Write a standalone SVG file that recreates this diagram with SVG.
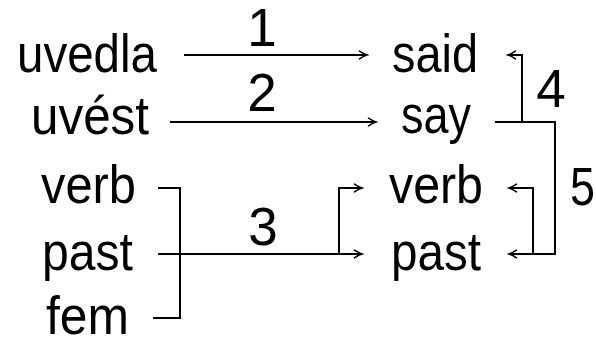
<svg xmlns="http://www.w3.org/2000/svg" width="596" height="339" viewBox="0 0 596 339">
<style>
text{font-family:"Liberation Sans","DejaVu Sans",sans-serif;font-size:53px;fill:#000}
.lbl{text-anchor:middle}
.c{fill:none;stroke:#000;stroke-width:2}
</style>
<defs>
<marker id="ah" markerUnits="userSpaceOnUse" markerWidth="12" markerHeight="12" viewBox="-10 -6 12 12" refX="0" refY="0" orient="auto">
<path d="M-7.5,-3.8 Q-3,-0.8 0,0 Q-3,0.8 -7.5,3.8" fill="none" stroke="#000" stroke-width="1.6" stroke-linecap="round"/>
</marker>
</defs>
<rect width="596" height="339" fill="#fff"/>
<g id="src-uvedla"><text x="17" y="72" textLength="140" lengthAdjust="spacingAndGlyphs">uvedla</text></g>
<g id="src-uvest"><text x="31" y="134" textLength="118" lengthAdjust="spacingAndGlyphs">uvést</text></g>
<g id="src-verb"><text x="41" y="203" textLength="95" lengthAdjust="spacingAndGlyphs">verb</text></g>
<g id="src-past"><text x="42" y="270" textLength="91" lengthAdjust="spacingAndGlyphs">past</text></g>
<g id="src-fem"><text x="46" y="334" textLength="83" lengthAdjust="spacingAndGlyphs">fem</text></g>
<g id="tgt-said"><text x="392" y="72" textLength="86" lengthAdjust="spacingAndGlyphs">said</text></g>
<g id="tgt-say"><text x="401" y="133" textLength="70" lengthAdjust="spacingAndGlyphs">say</text></g>
<g id="tgt-verb"><text x="389" y="203" textLength="94" lengthAdjust="spacingAndGlyphs">verb</text></g>
<g id="tgt-past"><text x="391" y="270" textLength="90" lengthAdjust="spacingAndGlyphs">past</text></g>
<g id="connectors">
<path class="c" d="M184,55 H367" marker-end="url(#ah)"/>
<path class="c" d="M170,122 H376" marker-end="url(#ah)"/>
<path class="c" d="M158,188 H180 V318 H153"/>
<path class="c" d="M158,254 H362" marker-end="url(#ah)"/>
<path class="c" d="M339,254 V188 H362" marker-end="url(#ah)"/>
<path class="c" d="M495,122 H522 V55 H508" marker-end="url(#ah)"/>
<path class="c" d="M522,122 H555 V254 H509" marker-end="url(#ah)"/>
<path class="c" d="M533,254 V188 H509" marker-end="url(#ah)"/>
<text class="lbl" x="262" y="46">1</text>
<text class="lbl" x="262" y="111">2</text>
<text class="lbl" x="263" y="245">3</text>
<text class="lbl" x="551" y="107">4</text>
<text x="570" y="205" textLength="25" lengthAdjust="spacingAndGlyphs">5</text>
</g>
</svg>
